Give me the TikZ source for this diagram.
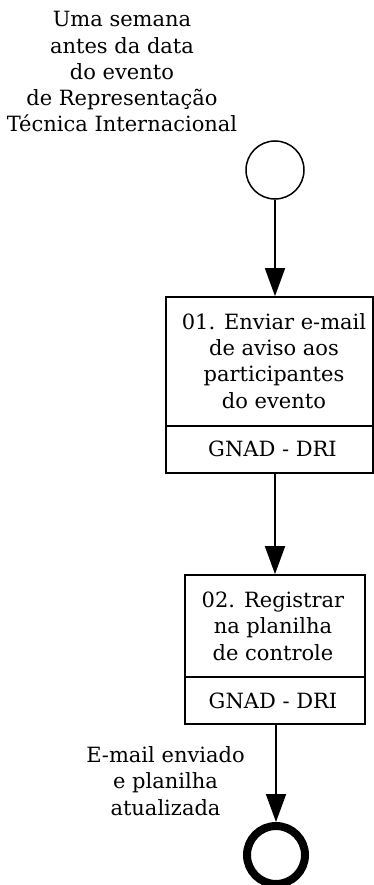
\documentclass[tikz,border=0pt]{standalone}
\usepackage{fontspec}
\setmainfont{DejaVu Serif}
\usetikzlibrary{arrows.meta}
\tikzset{
  lbl/.style={inner sep=0pt, align=center, font=\fontsize{21}{26.3}\selectfont},
  taskbox/.style={draw, line width=1.7pt, rectangle, inner sep=0pt},
  divline/.style={line width=1.7pt},
  flow/.style={line width=1.8pt, -{Triangle[length=28pt,width=20pt]}},
  startev/.style={draw, circle, line width=1.5pt, minimum size=58pt, inner sep=0pt},
  endev/.style={draw, circle, line width=8pt, minimum size=58pt, inner sep=0pt}
}
\begin{document}
\begin{tikzpicture}[x=1pt,y=-1pt]
\useasboundingbox (0,0) rectangle (374,885);
% start event
\node[startev] (start) at (275,170) {};
\node[lbl, anchor=base] (startlbl) at (122,132) {Uma semana\\antes da data\\do evento\\de Representação\\Técnica Internacional};
% task 1
\node[taskbox, minimum width=207pt, minimum height=176pt] (t1) at (269.5,385) {};
\coordinate (t1divL) at (166,426);
\coordinate (t1divR) at (373,426);
\draw[divline] (t1divL) -- (t1divR);
\node[lbl, anchor=base] (t1txt) at (274,408) {01. Enviar e-mail\\de aviso aos\\participantes\\do evento};
\node[lbl, anchor=base] (t1role) at (272.5,456) {GNAD - DRI};
% task 2
\node[taskbox, minimum width=180pt, minimum height=149pt] (t2) at (275,649.5) {};
\coordinate (t2divL) at (185,677);
\coordinate (t2divR) at (365,677);
\draw[divline] (t2divL) -- (t2divR);
\node[lbl, anchor=base] (t2txt) at (273,660) {02. Registrar\\na planilha\\de controle};
\node[lbl, anchor=base] (t2role) at (273,708) {GNAD - DRI};
% end event
\node[endev] (end) at (276,855) {};
\node[lbl, anchor=base] (endlbl) at (165.5,815) {E-mail enviado\\e planilha\\atualizada};
% connectors
\draw[flow] (start) -- (start |- t1.north);
\draw[flow] (t1.south -| start) -- (t2.north -| start);
\draw[flow] (t2.south -| end) -- (end.north);
\end{tikzpicture}
\end{document}
